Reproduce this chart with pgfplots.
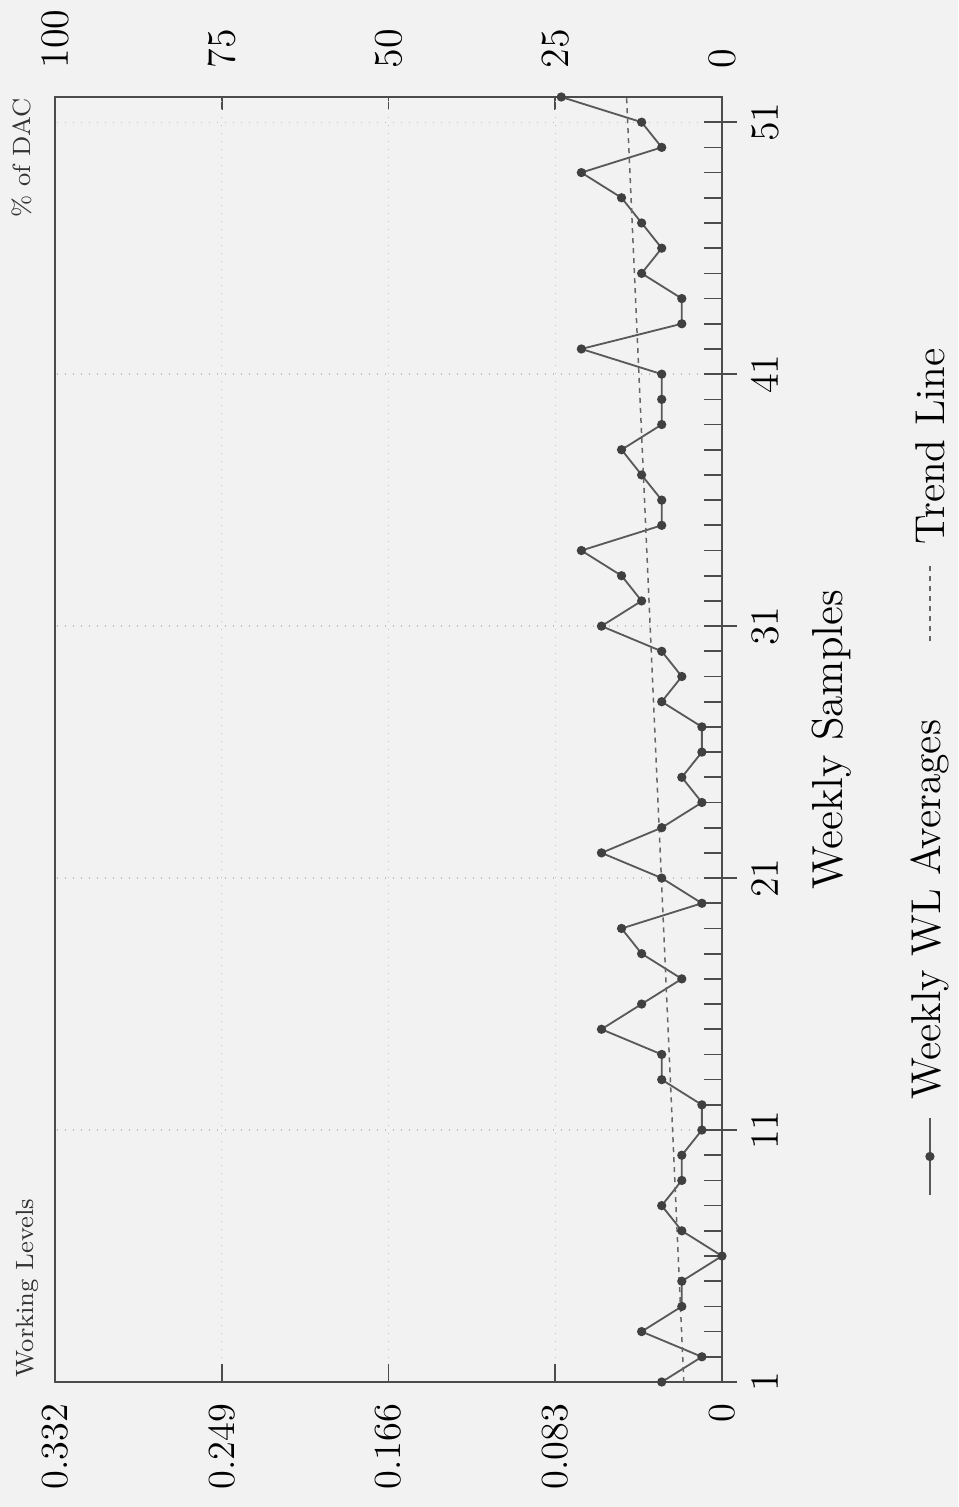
\documentclass[border=0pt]{standalone}
\usepackage{pgfplots}
\pgfplotsset{compat=1.18}
\usepackage{pgfplotstable}

\newcommand\ticksize{\fontsize{11.5}{13}\selectfont}
\newcommand\labsize{\fontsize{13}{15}\selectfont}
\newcommand\legsize{\fontsize{12.5}{15}\selectfont}
\newcommand\smallsize{\fontsize{7.5}{9}\selectfont}

\pgfplotstableread{
week wl
1 0.03
2 0.01
3 0.04
4 0.02
5 0.02
6 0.00
7 0.02
8 0.03
9 0.02
10 0.02
11 0.01
12 0.01
13 0.03
14 0.03
15 0.06
16 0.04
17 0.02
18 0.04
19 0.05
20 0.01
21 0.03
22 0.06
23 0.03
24 0.01
25 0.02
26 0.01
27 0.01
28 0.03
29 0.02
30 0.03
31 0.06
32 0.04
33 0.05
34 0.07
35 0.03
36 0.03
37 0.04
38 0.05
39 0.03
40 0.03
41 0.03
42 0.07
43 0.02
44 0.02
45 0.04
46 0.03
47 0.04
48 0.05
49 0.07
50 0.03
51 0.04
52 0.08
}\weekly

\pgfplotstableread{
week wl
1 0.019
52 0.0475
}\trend

\begin{document}
\begin{tikzpicture}
\fill[black!5, use as bounding box] (-16.5pt,-37.5pt) rectangle (270.9pt,414.6pt);

% outside parts of the major ticks on the sample axis
\begin{axis}[
  at={(0,0)}, anchor=south west, scale only axis,
  width=200.1pt, height=385.5pt,
  xmin=0, xmax=1, ymin=1, ymax=52,
  hide x axis, axis y line*=right,
  ytick={1,11,21,31,41,51}, yticklabels={},
  tick align=outside, major tick length=4.5pt,
  axis line style={black!70, line width=0.5pt},
  tick style={black!70, line width=0.5pt},
]
\end{axis}

% top axis: % of DAC
\begin{axis}[
  at={(0,0)}, anchor=south west, scale only axis,
  width=200.1pt, height=385.5pt,
  xmin=0, xmax=100, x dir=reverse, ymin=0, ymax=1,
  hide y axis, axis x line*=top,
  xtick={0,25,50,75,100},
  tick align=inside, major tick length=4pt,
  axis line style={black!70, line width=0.5pt},
  tick style={black!70, line width=0.5pt},
  xticklabel style={rotate=90, anchor=west, font=\ticksize},
  xticklabel shift=5pt,
]
\end{axis}

\begin{axis}[
  name=main,
  at={(0,0)}, anchor=south west, scale only axis,
  width=200.1pt, height=385.5pt,
  clip=false,
  xmin=0, xmax=0.332, x dir=reverse,
  ymin=1, ymax=52,
  xtick={0,0.083,0.166,0.249,0.332},
  xticklabels={0,0.083,0.166,0.249,0.332},
  xtick pos=bottom,
  ytick={1,11,21,31,41,51},
  minor ytick={2,...,52},
  ytick pos=right, yticklabel pos=right,
  tick align=inside,
  major tick length=5.5pt, minor tick length=5.5pt,
  grid=major,
  major grid style={black!25, dotted, line width=0.4pt},
  axis line style={black!70, line width=0.5pt},
  tick style={black!70, line width=0.5pt},
  xticklabel style={rotate=90, anchor=east, font=\ticksize},
  xticklabel shift=3pt,
  yticklabel style={rotate=90, anchor=north, font=\ticksize},
  yticklabel shift=5.5pt,
  ylabel={Weekly Samples},
  every axis y label/.style={at={(axis description cs:1.165,0.5)}, rotate=90, anchor=center, font=\labsize},
]
\addplot[black!65, line width=0.55pt, mark=*, mark size=1.1pt, mark options={fill=black!75, draw=black!75}]
  table[x=wl, y=week] {\weekly};
\addplot[black!60, line width=0.45pt, dash pattern=on 1.5pt off 1.5pt]
  table[x=wl, y=week] {\trend};

% legend (drawn rotated, like the chart)
\addplot[forget plot, black!65, line width=0.55pt, mark=*, mark size=1.1pt, mark indices={2},
  mark options={fill=black!75, draw=black!75}]
  coordinates {(-0.1035,8.42) (-0.1035,9.95) (-0.1035,11.48)};
\node[rotate=90, anchor=west, font=\legsize, inner sep=0pt] at (axis cs:-0.1035,12.2) {Weekly WL Averages};
\addplot[forget plot, black!60, line width=0.45pt, dash pattern=on 1.5pt off 1.5pt]
  coordinates {(-0.1035,30.4) (-0.1035,33.4)};
\node[rotate=90, anchor=west, font=\legsize, inner sep=0pt] at (axis cs:-0.1035,34.2) {Trend Line};
\end{axis}

\node[rotate=90, anchor=east, font=\smallsize, text=black!80, inner sep=0pt] at (-9.9pt,385.2pt) {\% of DAC};
\node[rotate=90, anchor=west, font=\smallsize, text=black!80, inner sep=0pt] at (-8.4pt,1.2pt) {Working Levels};
\end{tikzpicture}
\end{document}
